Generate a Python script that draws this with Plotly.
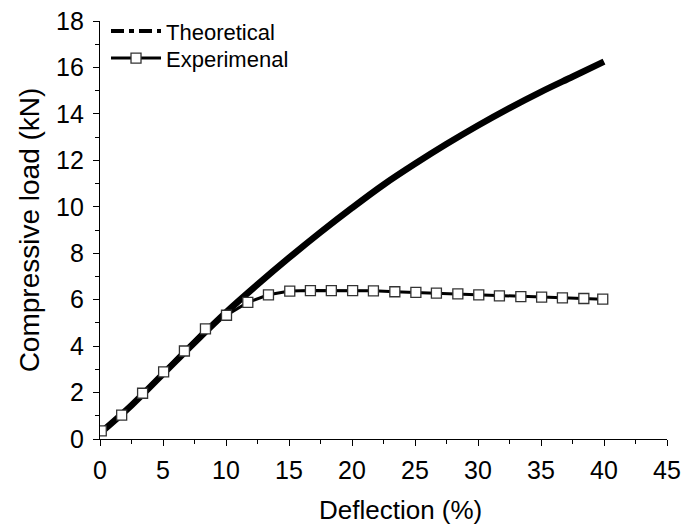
import plotly.graph_objects as go

# Theoretical curve
theo_x = [0, 2.5, 5, 7.5, 10, 12.5, 15, 17.5, 20, 22.5, 25, 27.5, 30, 32.5, 35, 37.5, 40]
theo_y = [0.25, 1.45, 2.8, 4.15, 5.45, 6.65, 7.8, 8.9, 9.95, 10.95, 11.85, 12.7, 13.5, 14.25, 14.95, 15.6, 16.25]

exp_x = [0.1, 1.72, 3.38, 5.05, 6.7, 8.37, 10.04, 11.73, 13.37, 15.06, 16.7, 18.36, 20.05, 21.7,
         23.4, 25.07, 26.7, 28.4, 30.06, 31.7, 33.4, 35.05, 36.7, 38.4, 39.9]
exp_y = [0.35, 1.03, 1.97, 2.89, 3.79, 4.74, 5.33, 5.88, 6.21, 6.37, 6.39, 6.39, 6.39, 6.38,
         6.34, 6.31, 6.28, 6.25, 6.21, 6.16, 6.13, 6.11, 6.08, 6.05, 6.02]

x_ticks = [0, 5, 10, 15, 20, 25, 30, 35, 40, 45]
y_ticks = [0, 2, 4, 6, 8, 10, 12, 14, 16, 18]

FONT = "Liberation Sans, Arial, sans-serif"
W, H = 683, 525

fig = go.Figure()
fig.add_trace(go.Scatter(x=theo_x, y=theo_y, mode="lines", line=dict(color="black", width=6.5, shape="spline"),
                         showlegend=False))
fig.add_trace(go.Scatter(x=[None], y=[None], mode="lines", name="Theoretical", legend="legend",
                         line=dict(color="black", width=4, dash="13px,5px,5px,5px")))
fig.add_trace(go.Scatter(x=exp_x, y=exp_y, mode="lines+markers", name="Experimenal", legend="legend2",
                         line=dict(color="black", width=3),
                         marker=dict(symbol="square", size=10, color="white",
                                     line=dict(color="#333333", width=1.3))))

axis_common = dict(showgrid=False, zeroline=False, showline=True, linecolor="black", linewidth=1.3,
                   ticks="outside", ticklen=6, tickwidth=1.3, tickcolor="black", automargin=False,
                   tickfont=dict(family=FONT, size=25, color="black"),
                   minor=dict(ticks="outside", ticklen=4, tickwidth=1.3, tickcolor="black"))

fig.update_xaxes(range=[0, 45], tickvals=x_ticks, minor_dtick=2.5, ticklabelstandoff=3, **axis_common)
fig.update_yaxes(range=[0, 18], tickvals=y_ticks, minor_dtick=1, ticklabelstandoff=4,
                 title=dict(text="Compressive load (kN)", font=dict(family=FONT, size=28, color="black"), standoff=8),
                 **axis_common)

fig.add_annotation(text="Deflection (%)", xref="paper", yref="paper", x=0.53, y=0, yshift=-71,
                   xanchor="center", yanchor="middle", showarrow=False,
                   font=dict(family=FONT, size=26, color="black"))

leg_common = dict(xanchor="left", yanchor="top", bgcolor="rgba(0,0,0,0)",
                  font=dict(family=FONT, size=22, color="black"), itemwidth=50)

fig.update_layout(
    width=W, height=H,
    margin=dict(l=100, r=16, t=21, b=86, autoexpand=False),
    plot_bgcolor="white", paper_bgcolor="white",
    legend=dict(x=0.0106, y=1.026, **leg_common),
    legend2=dict(x=0.0106, y=0.961, **leg_common),
)

fig.write_html("out.html", config={"displayModeBar": False},
               post_script="document.body.style.margin='0';document.body.style.overflow='hidden';")
